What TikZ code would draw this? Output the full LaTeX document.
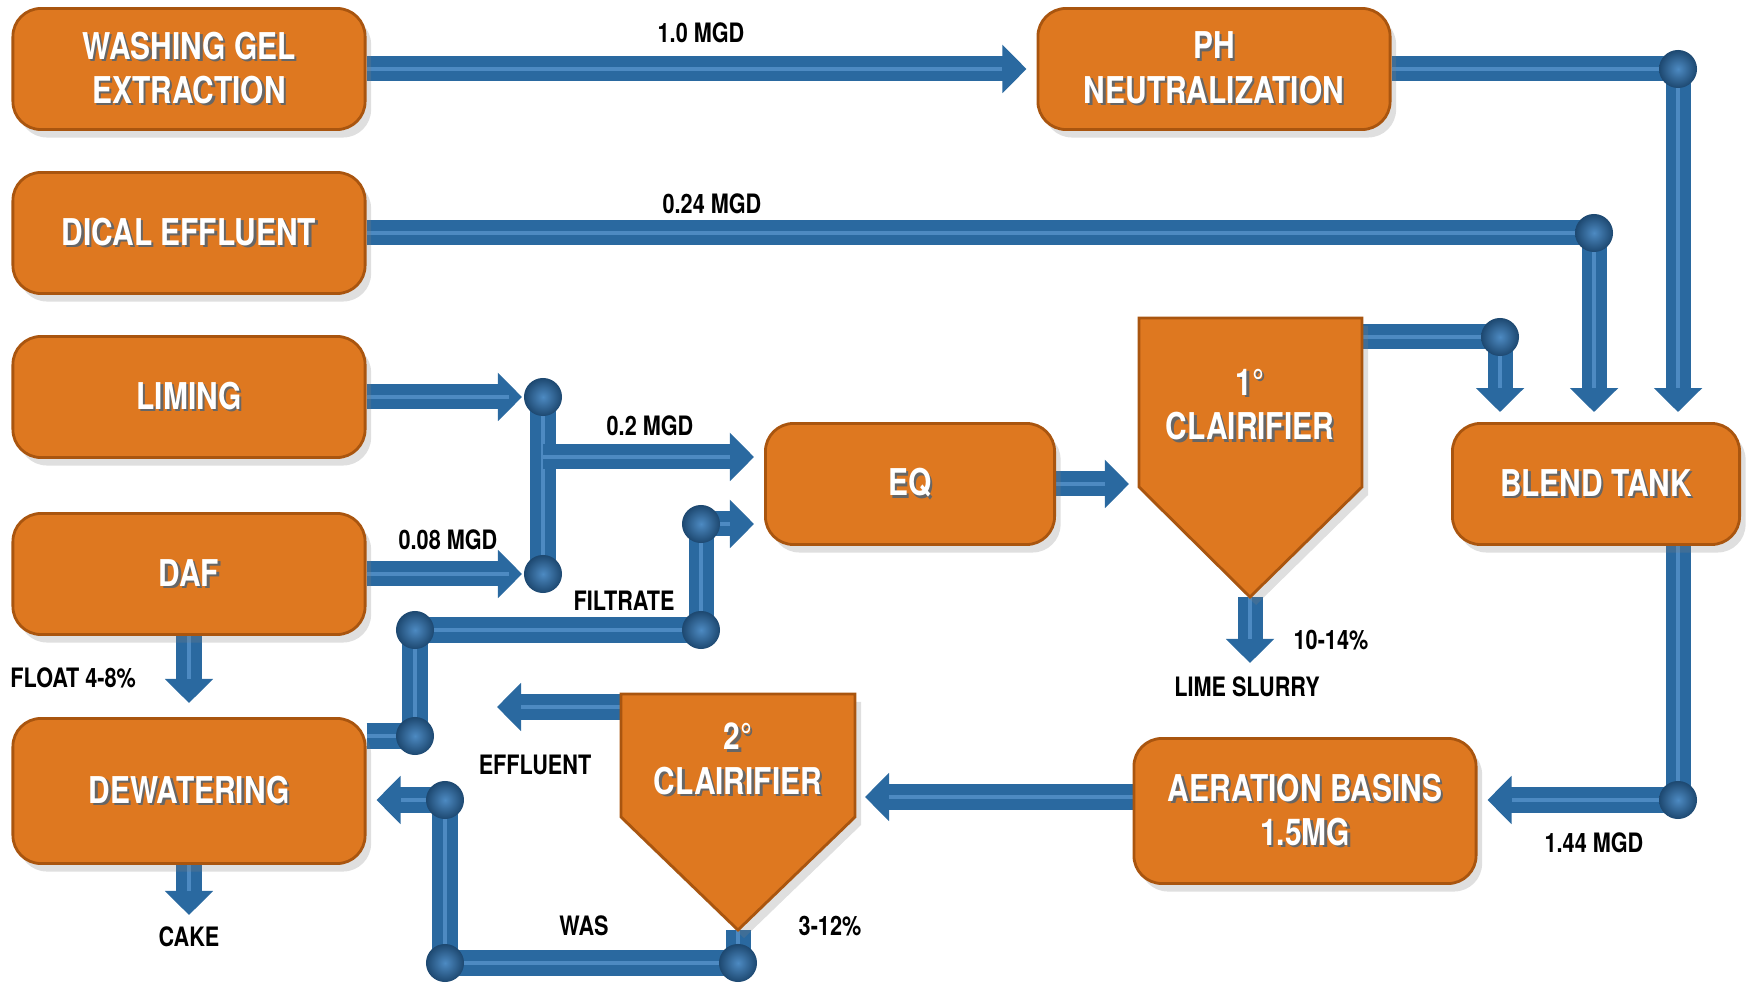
\documentclass[tikz,border=0pt]{standalone}
\usepackage{fontspec}
\newfontfamily\narrowfont[FakeStretch=0.81]{TeX Gyre Heros}
\usetikzlibrary{arrows.meta,positioning,calc,shadows,backgrounds}

\definecolor{boxorange}{HTML}{DE7820}
\definecolor{boxedge}{HTML}{A9550F}
\definecolor{pipeblue}{HTML}{2A69A0}
\definecolor{pipelight}{HTML}{4D8AC2}
\definecolor{pipedark}{HTML}{1D4870}
\newcommand\txtsh[1]{\leavevmode\rlap{\kern0.7pt\raisebox{-0.7pt}{\textcolor{black!60}{#1}}}#1}

\begin{document}
\begin{tikzpicture}[x=0.01cm, y=-0.01cm,
    box/.style={rectangle, draw=boxedge, line width=0.8pt, rounded corners=0.28cm, fill=boxorange, minimum width=3.52cm, minimum height=1.21cm, align=center, text=white, font=\narrowfont\bfseries\fontsize{10.5}{12.6}\selectfont, drop shadow={opacity=0.25, shadow xshift=0.06cm, shadow yshift=-0.08cm}},
    tank/.style={draw=boxedge, line width=0.8pt, fill=boxorange, drop shadow={opacity=0.25, shadow xshift=0.06cm, shadow yshift=-0.08cm}},
    tanktext/.style={align=center, text=white, font=\narrowfont\bfseries\fontsize{10.5}{12.6}\selectfont},
    lbl/.style={font=\narrowfont\bfseries\fontsize{7.6}{9}\selectfont},
    flow/.style={draw=pipeblue, line width=0.25cm, -{Triangle[length=0.24cm,width=0.47cm]}, shorten >=0.1cm, postaction={draw=pipelight, line width=0.045cm, -, shorten >=0.34cm}},
    pipe/.style={draw=pipeblue, line width=0.25cm, postaction={draw=pipelight, line width=0.045cm}},
    open/.style={shorten >=0pt, postaction={draw=pipelight, line width=0.045cm, -, shorten >=0.24cm}},
    toball/.style={shorten >=0.21cm, postaction={draw=pipelight, line width=0.045cm, -, shorten >=0.45cm}},
    joint/.style={inner color=pipelight, outer color=pipedark}
]
\useasboundingbox (0,0) rectangle (1748,983);

% process boxes
\node[box] (wash) at (189,69) {\txtsh{WASHING GEL}\\\txtsh{EXTRACTION}};
\node[box] (ph) at (1214,69) {\txtsh{PH}\\\txtsh{NEUTRALIZATION}};
\node[box] (dical) at (189,233) {\txtsh{DICAL EFFLUENT}};
\node[box] (liming) at (189,397) {\txtsh{LIMING}};
\node[box] (daf) at (189,574) {\txtsh{DAF}};
\node[box, minimum height=1.45cm] (dewater) at (189,791) {\txtsh{DEWATERING}};
\node[box, minimum width=2.89cm] (eq) at (910,484) {\txtsh{EQ}};
\node[box, minimum width=2.87cm] (blend) at (1596,484) {\txtsh{BLEND TANK}};
\node[box, minimum width=3.42cm, minimum height=1.45cm] (aer) at (1305,811) {\txtsh{AERATION BASINS}\\\txtsh{1.5MG}};

% clarifiers
\draw[tank] (1139,318) coordinate (clarAnw) -- (1362,318) coordinate (clarAne) -- (1362,487) -- (1250,597) coordinate (clarAtip) -- (1139,487) -- cycle;
\node[tanktext] (clarA) at (1250,406) {\txtsh{1°}\\\txtsh{CLAIRIFIER}};
\draw[tank] (621,694) coordinate (clarBnw) -- (855,694) coordinate (clarBne) -- (855,817) -- (738,930) coordinate (clarBtip) -- (621,817) -- cycle;
\node[tanktext] (clarB) at (738,760) {\txtsh{2°}\\\txtsh{CLAIRIFIER}};

% joints and free ends
\coordinate (phJ) at (1678,69);
\coordinate (dicalJ) at (1594,233);
\coordinate (clarAJ) at (1500,337);
\coordinate (limJ) at (543,397);
\coordinate (dafJ) at (543,574);
\coordinate (eqIn) at (543,457);
\coordinate (filJa) at (701,524);
\coordinate (filJb) at (701,630);
\coordinate (filJc) at (415,630);
\coordinate (dewJ) at (415,736);
\coordinate (aerJ) at (1678,800);
\coordinate (aerOut) at (1134,797);
\coordinate (wasJa) at (738,963);
\coordinate (wasJb) at (445,963);
\coordinate (wasJc) at (445,800);
\coordinate (limeEnd) at (1250,663);
\coordinate (effStart) at (621,707);
\coordinate (effEnd) at (497,707);
\coordinate (floatEnd) at (189,703);
\coordinate (cakeEnd) at (189,915);

% labels
\node[lbl] (l1) at (701,33) {1.0 MGD};
\node[lbl] (l2) at (712,204) {0.24 MGD};
\node[lbl] (l3) at (650,426) {0.2 MGD};
\node[lbl] (l4) at (448,540) {0.08 MGD};
\node[lbl] (l5) at (624,601) {FILTRATE};
\node[lbl, anchor=west] (l6) at (-2,678) {FLOAT 4-8\%};
\node[lbl] (l7) at (535,765) {EFFLUENT};
\node[lbl] (l8) at (189,937) {CAKE};
\node[lbl] (l9) at (584,926) {WAS};
\node[lbl] (l10) at (830,926) {3-12\%};
\node[lbl] (l11) at (1331,640) {10-14\%};
\node[lbl] (l12) at (1247,687) {LIME SLURRY};
\node[lbl] (l13) at (1594,843) {1.44 MGD};

% pipes
\begin{scope}[on background layer]
\draw[flow] (wash) -- (ph);
\draw[flow] (ph) -- (phJ) -- (phJ |- blend.north);
\draw[flow] (dical) -- (dicalJ) -- (dicalJ |- blend.north);
\draw[flow] (clarAne |- clarAJ) -- (clarAJ) -- (clarAJ |- blend.north);
\draw[flow, toball] (liming) -- (limJ);
\draw[flow, toball] (daf) -- (dafJ);
\draw[pipe] (limJ) -- (dafJ);
\draw[flow] (eqIn) -- (eqIn -| eq.west);
\draw[flow] (dewJ -| dewater.east) -- (dewJ) -- (filJc) -- (filJb) -- (filJa) -- (filJa -| eq.west);
\draw[flow] (eq.east) -- (eq.east -| clarAnw);
\draw[flow, open] (clarAtip) -- (limeEnd);
\draw[flow] (phJ |- blend.south) -- (aerJ) -- (aerJ -| aer.east);
\draw[flow] (aerOut) -- (aerOut -| clarBne);
\draw[flow, open] (effStart) -- (effEnd);
\draw[flow] (clarBtip) -- (wasJa) -- (wasJb) -- (wasJc) -- (wasJc -| dewater.east);
\draw[flow, open] (daf) -- (floatEnd);
\draw[flow, open] (dewater) -- (cakeEnd);
\foreach \j in {phJ,dicalJ,clarAJ,limJ,dafJ,filJa,filJb,filJc,dewJ,aerJ,wasJa,wasJb,wasJc}
  \shade[joint] (\j) circle (0.19cm);
\end{scope}
\end{tikzpicture}
\end{document}
